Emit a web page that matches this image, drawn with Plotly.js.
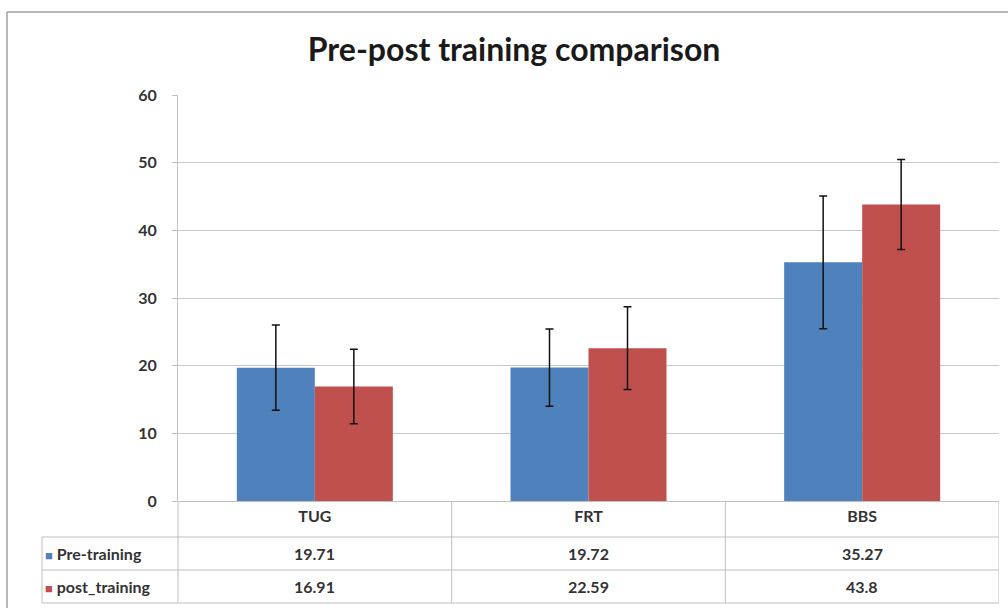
<!DOCTYPE html>
<html>
<head>
<meta charset="utf-8">
<script src="https://cdn.plot.ly/plotly-3.0.1.min.js"></script>
<style>html,body{margin:0;padding:0;background:#fff;}#chart{width:1008px;height:608px;}</style>
</head>
<body>
<div id="chart"></div>
<script>
const categories = ["TUG", "FRT", "BBS"];
const seriesNames = ["Pre-training", "post_training"];
const preValues = [19.71, 19.72, 35.27];
const postValues = [16.91, 22.59, 43.8];
const preErrors = [6.3, 5.7, 9.8];
const postErrors = [5.5, 6.1, 6.65];
const colors = ["#4F81BD", "#C0504D"];

const W = 1008, H = 608;
const M = {l: 178, r: 9, t: 95, b: 107};
const PW = W - M.l - M.r, PH = H - M.t - M.b;
const px = v => (v - M.l) / PW;
const py = v => (H - M.b - v) / PH;

const font = {family: "Lato, 'Open Sans', sans-serif", color: "#333333", weight: "bold"};
const values = [preValues, postValues];
const errors = [preErrors, postErrors];

const traces = seriesNames.map((name, i) => ({
  type: "bar",
  name: name,
  x: categories,
  y: values[i],
  marker: {color: colors[i]},
  error_y: {type: "data", array: errors[i], visible: true, color: "#111", thickness: 1.5, width: 4},
  showlegend: false,
  hoverinfo: "x+y"
}));

const lineStyle = {color: "#bfbfbf", width: 1};
const frame = {color: "#a0a0a0", width: 1.5};
const shapes = [
  // outer frame (left and top edges; the rest lies outside the picture)
  {type: "line", xref: "paper", yref: "paper", x0: px(7), x1: px(7), y0: py(12), y1: py(620), line: frame},
  {type: "line", xref: "paper", yref: "paper", x0: px(7), x1: px(1020), y0: py(12), y1: py(12), line: frame},
  // table horizontal lines
  {type: "line", xref: "paper", yref: "paper", x0: px(42), x1: px(999), y0: py(537), y1: py(537), line: lineStyle},
  {type: "line", xref: "paper", yref: "paper", x0: px(42), x1: px(999), y0: py(570), y1: py(570), line: lineStyle},
  {type: "line", xref: "paper", yref: "paper", x0: px(42), x1: px(999), y0: py(603), y1: py(603), line: lineStyle},
  // left of row-label column
  {type: "line", xref: "paper", yref: "paper", x0: px(42), x1: px(42), y0: py(537), y1: py(603), line: lineStyle},
  // plot left border down through table
  {type: "line", xref: "paper", yref: "paper", x0: 0, x1: 0, y0: 0, y1: py(603), line: lineStyle}
];
// category separators
for (let k = 0; k < categories.length; k++) {
  shapes.push({type: "line", xref: "x", yref: "paper", x0: k + 0.5, x1: k + 0.5, y0: 0, y1: py(603), line: lineStyle});
}

const annotations = [];
const rowY = [553, 586];
seriesNames.forEach((name, i) => {
  annotations.push({
    xref: "paper", yref: "paper", x: px(43), y: py(rowY[i]), xanchor: "left", yanchor: "middle",
    text: '<span style="color:' + colors[i] + ';font-size:13px">■</span> ' + name,
    showarrow: false, font: Object.assign({}, font, {size: 16})
  });
  values[i].forEach((v, k) => {
    annotations.push({
      xref: "x", yref: "paper", x: categories[k], y: py(rowY[i]), xanchor: "center", yanchor: "middle",
      text: String(v), showarrow: false, font: Object.assign({}, font, {size: 16})
    });
  });
});

const layout = {
  width: W, height: H,
  margin: M,
  paper_bgcolor: "#ffffff", plot_bgcolor: "#ffffff",
  title: {text: "Pre-post training comparison", font: Object.assign({}, font, {size: 32, color: "#1a1a1a"}),
          x: 0.51, xref: "container", xanchor: "center", y: 1 - 50 / H, yanchor: "middle"},
  barmode: "group",
  bargap: 0.43,
  bargroupgap: 0,
  xaxis: {
    type: "category", range: [-0.5, 2.5],
    showline: false, showgrid: false, zeroline: false, ticks: "",
    tickfont: Object.assign({}, font, {size: 16}),
    ticklabelstandoff: 4
  },
  yaxis: {
    range: [0, 60], dtick: 10, tick0: 0,
    showline: true, linecolor: "#bfbfbf", linewidth: 1,
    ticks: "outside", ticklen: 5, tickcolor: "#bfbfbf",
    showgrid: true, gridcolor: "#c6c6c6", gridwidth: 1,
    zeroline: true, zerolinecolor: "#bfbfbf",
    tickfont: Object.assign({}, font, {size: 16}),
    ticklabelstandoff: 12
  },
  shapes: shapes,
  annotations: annotations
};

Plotly.newPlot("chart", traces, layout, {displayModeBar: false, staticPlot: true});
</script>
</body>
</html>
